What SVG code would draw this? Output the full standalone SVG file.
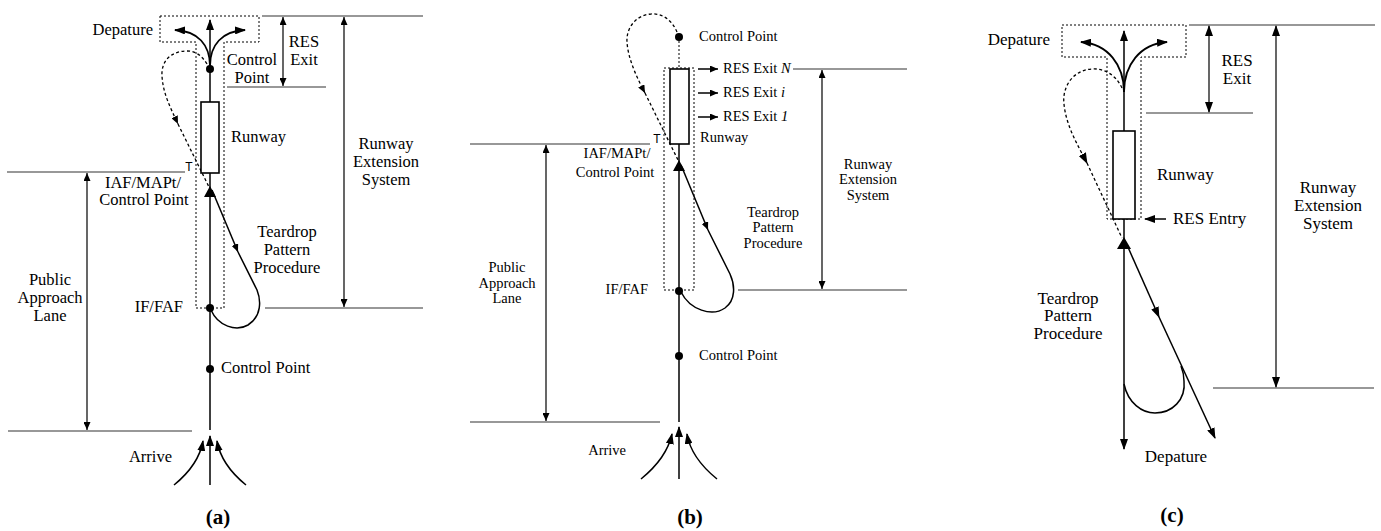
<svg xmlns="http://www.w3.org/2000/svg" width="1381" height="531" viewBox="0 0 1381 531">
<style>
text{font-family:"Liberation Serif","Times New Roman",serif;fill:#000}
.a{font-size:16.5px}
.b{font-size:14.5px}
.c{font-size:17px}
.m{text-anchor:middle}
.e{text-anchor:end}
.cap{font-weight:bold;font-size:21px;text-anchor:middle}
.t{font-family:"Liberation Sans",Arial,sans-serif;font-size:12px;text-anchor:middle;fill:#000}
.ln{stroke:#000;stroke-width:1.5;fill:none}
.th{stroke:#000;stroke-width:1.8;fill:none}
.hz{stroke:#333;stroke-width:1.2;fill:none}
.dm{stroke:#000;stroke-width:1.2;fill:none}
.dot{stroke:#000;stroke-width:1;fill:none;stroke-dasharray:2 2}
.dsh{stroke:#000;stroke-width:1.3;fill:none;stroke-dasharray:3 2.5}
.rw{fill:#fff;stroke:#000;stroke-width:1.6}
</style>
<defs>
<marker id="ah" viewBox="0 0 11 8" refX="10" refY="4" markerWidth="11" markerHeight="8" markerUnits="userSpaceOnUse" orient="auto-start-reverse"><path d="M0,0 L11,4 L0,8 z" fill="#000"/></marker>
<marker id="as" viewBox="0 0 8 7" refX="8" refY="3.5" markerWidth="8" markerHeight="7" markerUnits="userSpaceOnUse" orient="auto-start-reverse"><path d="M0,0 L8,3.5 L0,7 z" fill="#000"/></marker>
</defs>
<rect width="1381" height="531" fill="#fff"/>

<!-- ================= Panel (a) ================= -->
<g id="panel-a">
<g id="a-zone"><path class="dot" d="M160 16 H259 V42 H224 V308 H196 V42 H160 Z"/></g>
<g id="a-connectors">
<line class="hz" x1="262" y1="16" x2="423" y2="16"/>
<line class="hz" x1="227" y1="87" x2="326" y2="87"/>
<line class="hz" x1="265" y1="308" x2="423" y2="308"/>
<line class="hz" x1="7" y1="172" x2="185" y2="172"/>
<line class="hz" x1="8" y1="431" x2="192" y2="431"/>
<line class="dm" x1="283" y1="17" x2="283" y2="86" marker-start="url(#as)" marker-end="url(#as)"/>
<line class="dm" x1="344" y1="17" x2="344" y2="307" marker-start="url(#as)" marker-end="url(#as)"/>
<line class="dm" x1="87" y1="173" x2="87" y2="430" marker-start="url(#as)" marker-end="url(#as)"/>
<line class="ln" x1="210" y1="102" x2="210" y2="20" marker-end="url(#ah)"/>
<path class="th" d="M210 66 C210 45 198 31 175 30" marker-end="url(#ah)"/>
<path class="th" d="M210 66 C210 45 222 31 245 30" marker-end="url(#ah)"/>
<line class="ln" x1="210" y1="173" x2="210" y2="430"/>
<polygon points="210,186 204,197 216,197" fill="#000"/>
<path class="dsh" d="M207 64 C202 56 196 51 187 51 C170 51 161 62 162 76 C163 93 170 107 178 124" marker-end="url(#as)"/>
<line class="dsh" x1="178" y1="124" x2="209" y2="187"/>
<path class="ln" d="M212 190 L238 252" marker-end="url(#as)"/>
<path class="ln" d="M238 252 L257 290 C261 300 262 316 248 325 C236 332 218 326 211 310"/>
<line class="ln" x1="210" y1="485" x2="210" y2="436" marker-end="url(#ah)"/>
<path class="ln" d="M174 485 C190 472 200 458 203 441" marker-end="url(#ah)"/>
<path class="ln" d="M246 485 C230 472 220 458 217 441" marker-end="url(#ah)"/>
</g>
<g id="a-runway"><rect class="rw" x="201" y="102" width="18" height="71"/><text class="a" x="231" y="142">Runway</text></g>
<g id="a-control-top"><circle cx="210" cy="69" r="4"/><text class="a m" x="252" y="65">Control</text><text class="a m" x="252" y="83">Point</text></g>
<g id="a-ifaf"><circle cx="210" cy="308" r="4"/><text class="a e" x="183" y="312">IF/FAF</text></g>
<g id="a-control-bottom"><circle cx="210" cy="369" r="4"/><text class="a" x="221" y="373">Control Point</text></g>
<g id="a-labels">
<text class="a e" x="153" y="35">Depature</text>
<text class="a m" x="304" y="47">RES</text><text class="a m" x="304" y="65">Exit</text>
<text class="a m" x="386" y="149">Runway</text><text class="a m" x="386" y="167">Extension</text><text class="a m" x="386" y="185">System</text>
<text class="t" x="189" y="171">T</text>
<text class="a m" x="143" y="188">IAF/MAPt/</text><text class="a m" x="144" y="205">Control Point</text>
<text class="a m" x="287" y="237">Teardrop</text><text class="a m" x="287" y="255">Pattern</text><text class="a m" x="287" y="273">Procedure</text>
<text class="a m" x="50" y="285">Public</text><text class="a m" x="50" y="303">Approach</text><text class="a m" x="50" y="321">Lane</text>
<text class="a e" x="172" y="462">Arrive</text>
<text class="cap" x="218" y="524">(a)</text>
</g>
</g>

<!-- ================= Panel (b) ================= -->
<g id="panel-b">
<g id="b-zone"><rect class="dot" x="664" y="68" width="30" height="222"/></g>
<g id="b-connectors">
<line class="hz" x1="793" y1="69" x2="907" y2="69"/>
<line class="hz" x1="738" y1="290" x2="907" y2="290"/>
<line class="hz" x1="470" y1="144" x2="650" y2="144"/>
<line class="hz" x1="470" y1="422" x2="660" y2="422"/>
<line class="dm" x1="822" y1="70" x2="822" y2="289" marker-start="url(#as)" marker-end="url(#as)"/>
<line class="dm" x1="546" y1="145" x2="546" y2="421" marker-start="url(#as)" marker-end="url(#as)"/>
<line class="dot" x1="679" y1="41" x2="679" y2="69"/>
<path class="dsh" d="M677 32 C672 20 662 13 651 14 C636 15 626 28 627 42 C628 58 636 76 645 93" marker-end="url(#as)"/>
<line class="dsh" x1="645" y1="93" x2="678" y2="160"/>
<line class="ln" x1="698" y1="69" x2="718" y2="69" marker-end="url(#as)"/>
<line class="ln" x1="698" y1="93" x2="718" y2="93" marker-end="url(#as)"/>
<line class="ln" x1="698" y1="117" x2="718" y2="117" marker-end="url(#as)"/>
<line class="ln" x1="679" y1="144" x2="679" y2="422"/>
<polygon points="679,160 673,171 685,171" fill="#000"/>
<path class="ln" d="M681 165 L708 230" marker-end="url(#as)"/>
<path class="ln" d="M708 230 L730 274 C735 285 736 300 725 308 C712 317 690 310 681 292"/>
<line class="ln" x1="679" y1="479" x2="679" y2="427" marker-end="url(#ah)"/>
<path class="ln" d="M641 479 C657 466 668 452 672 434" marker-end="url(#ah)"/>
<path class="ln" d="M717 479 C701 466 690 452 687 434" marker-end="url(#ah)"/>
</g>
<g id="b-runway"><rect class="rw" x="670" y="69" width="19" height="75"/><text class="b" x="700" y="142">Runway</text></g>
<g id="b-control-top"><circle cx="679" cy="37" r="4"/><text class="b" x="699" y="41">Control Point</text></g>
<g id="b-ifaf"><circle cx="679" cy="291" r="4"/><text class="b e" x="648" y="294">IF/FAF</text></g>
<g id="b-control-bottom"><circle cx="679" cy="356" r="4"/><text class="b" x="699" y="360">Control Point</text></g>
<g id="b-labels">
<text class="b" x="723" y="73">RES Exit <tspan font-style="italic">N</tspan></text>
<text class="b" x="723" y="97">RES Exit <tspan font-style="italic">i</tspan></text>
<text class="b" x="723" y="121">RES Exit <tspan font-style="italic">1</tspan></text>
<text class="b m" x="868" y="168.5">Runway</text><text class="b m" x="868" y="184">Extension</text><text class="b m" x="868" y="199.5">System</text>
<text class="t" x="657" y="143">T</text>
<text class="b m" x="617" y="158">IAF/MAPt/</text><text class="b m" x="615" y="177">Control Point</text>
<text class="b m" x="773" y="217">Teardrop</text><text class="b m" x="773" y="232">Pattern</text><text class="b m" x="773" y="247.5">Procedure</text>
<text class="b m" x="507" y="272">Public</text><text class="b m" x="507" y="287.5">Approach</text><text class="b m" x="507" y="303">Lane</text>
<text class="b e" x="626" y="455">Arrive</text>
<text class="cap" x="690" y="524">(b)</text>
</g>
</g>

<!-- ================= Panel (c) ================= -->
<g id="panel-c">
<g id="c-zone"><path class="dot" d="M1062 25 H1186 V57 H1141 V219 H1107 V57 H1062 Z"/></g>
<g id="c-connectors">
<line class="hz" x1="1189" y1="25" x2="1375" y2="25"/>
<line class="hz" x1="1146" y1="113" x2="1253" y2="113"/>
<line class="hz" x1="1213" y1="388" x2="1374" y2="388"/>
<line class="dm" x1="1209" y1="26" x2="1209" y2="112" marker-start="url(#ah)" marker-end="url(#ah)"/>
<line class="dm" x1="1276" y1="26" x2="1276" y2="387" marker-start="url(#ah)" marker-end="url(#ah)"/>
<line class="ln" x1="1124" y1="131" x2="1124" y2="31" marker-end="url(#ah)"/>
<path class="th" d="M1124 92 C1124 65 1108 44 1081 42" marker-end="url(#ah)"/>
<path class="th" d="M1124 92 C1124 65 1140 44 1167 42" marker-end="url(#ah)"/>
<path class="dsh" d="M1122 88 C1116 75 1104 68 1092 69 C1072 70 1062 88 1064 104 C1066 125 1077 144 1087 163" marker-end="url(#ah)"/>
<line class="dsh" x1="1087" y1="163" x2="1122" y2="238"/>
<line class="ln" x1="1166" y1="219" x2="1145" y2="219" marker-end="url(#ah)"/>
<line class="ln" x1="1124" y1="219" x2="1124" y2="449" marker-end="url(#ah)"/>
<polygon points="1124,237 1117,249 1131,249" fill="#000"/>
<path class="ln" d="M1127 245 L1159 317" marker-end="url(#ah)"/>
<path class="ln" d="M1159 317 L1215 438" marker-end="url(#ah)"/>
<path class="ln" d="M1124 384 C1128 403 1142 413 1155 413 C1172 413 1186 400 1184 381 C1184 375 1183 371 1181 366"/>
</g>
<g id="c-runway"><rect class="rw" x="1113" y="131" width="22" height="88"/><text class="c" x="1157" y="180">Runway</text></g>
<g id="c-labels">
<text class="c e" x="1050" y="45">Depature</text>
<text class="c m" x="1237" y="66">RES</text><text class="c m" x="1237" y="84">Exit</text>
<text class="c m" x="1328" y="193">Runway</text><text class="c m" x="1328" y="211">Extension</text><text class="c m" x="1328" y="228.5">System</text>
<text class="c" x="1173" y="224">RES Entry</text>
<text class="c m" x="1068" y="303.5">Teardrop</text><text class="c m" x="1068" y="321">Pattern</text><text class="c m" x="1068" y="339">Procedure</text>
<text class="c m" x="1176" y="462">Depature</text>
<text class="cap" x="1172" y="522">(c)</text>
</g>
</g>
</svg>
